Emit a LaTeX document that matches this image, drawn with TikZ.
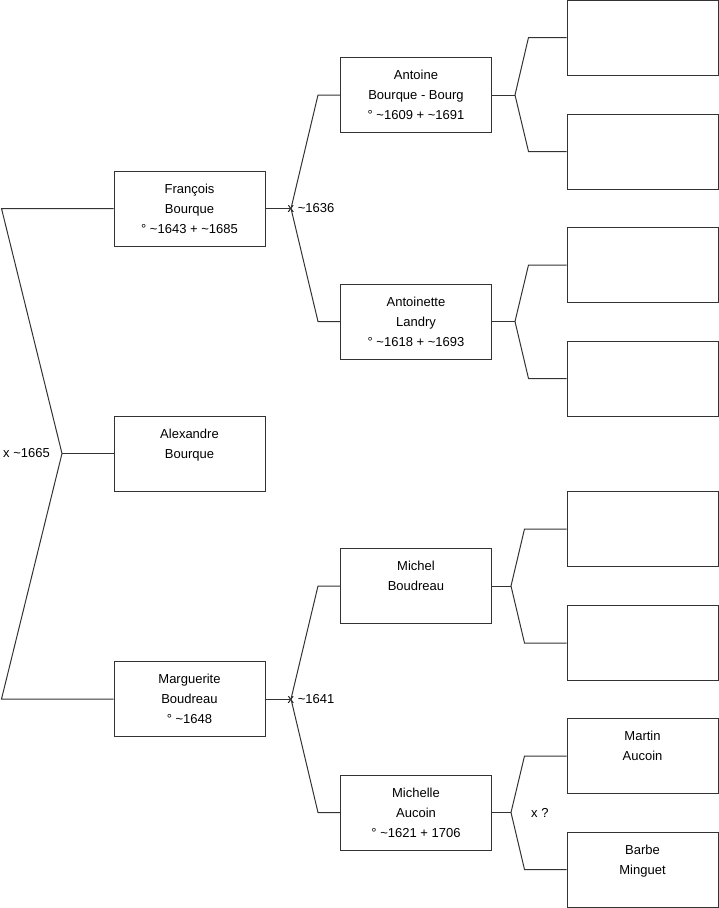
\documentclass[tikz,border=0pt]{standalone}
\usepackage{fontspec}
\setmainfont{Liberation Sans}
\usepackage{tikz}
\tikzstyle{person} = [
    rectangle,
    minimum width=151pt,
    minimum height=75pt,
    align=center,
    draw=black!80,
    line width=1pt,
    font=\fontsize{13}{20}\selectfont
]
\tikzstyle{union} = [
    inner sep=0pt,
    font=\fontsize{13}{15}\selectfont
]
\tikzstyle{branch} = [line width=1pt, draw=black!80]

\begin{document}
\begin{tikzpicture}[x=1pt, y=-1pt]
\useasboundingbox (0,0) rectangle (719,908);

\node (alexandre) [person] at (189.5,453.5) {Alexandre\\Bourque\\~};

\node (francois) [person] at (189.5,208.5) {François\\Bourque\\° \textasciitilde1643 + \textasciitilde1685};

\node (marguerite) [person] at (189.5,699) {Marguerite\\Boudreau\\° \textasciitilde1648};

\node (antoine) [person] at (416,95) {Antoine\\Bourque - Bourg\\° \textasciitilde1609 + \textasciitilde1691};

\node (antoinette) [person] at (416,321.5) {Antoinette\\Landry\\° \textasciitilde1618 + \textasciitilde1693};

\node (michel) [person] at (416,586) {Michel\\Boudreau\\~};

\node (michelle) [person] at (416,812.5) {Michelle\\Aucoin\\° \textasciitilde1621 + 1706};

\node (gp1) [person] at (642.5,37.5) {};
\node (gp2) [person] at (642.5,151.5) {};
\node (gp3) [person] at (642.5,265) {};
\node (gp4) [person] at (642.5,378.5) {};
\node (gp5) [person] at (642.5,529) {};
\node (gp6) [person] at (642.5,643) {};

\node (martin) [person] at (642.5,756) {Martin\\Aucoin\\~};

\node (barbe) [person] at (642.5,869.5) {Barbe\\Minguet\\~};

\coordinate (j0) at (62,453.5);
\coordinate (j1) at (291,208.5);
\coordinate (j2) at (291,699);
\coordinate (j3) at (515,95);
\coordinate (j4) at (515,321.5);
\coordinate (j5) at (511,586);
\coordinate (j6) at (511,812.5);

\node (m1665) [union, anchor=west] at (3,453.5) {x \textasciitilde1665};
\node (m1636) [union, anchor=west] at (287.5,208.5) {x \textasciitilde1636};
\node (m1641) [union, anchor=west] at (287.5,699) {x \textasciitilde1641};
\node (munk) [union, anchor=west] at (531,812.5) {x ?};

\draw [branch] (francois.west) -- ([xshift=-112pt]francois.west) -- (j0)
    -- ([xshift=-112pt]marguerite.west) -- (marguerite.west);
\draw [branch] (j0) -- (alexandre.west);

\draw [branch] (francois.east) -- (j1);
\draw [branch] (antoine.west) -- ([xshift=-22pt]antoine.west) -- (j1)
    -- ([xshift=-22pt]antoinette.west) -- (antoinette.west);

\draw [branch] (marguerite.east) -- (j2);
\draw [branch] (michel.west) -- ([xshift=-22pt]michel.west) -- (j2)
    -- ([xshift=-22pt]michelle.west) -- (michelle.west);

\draw [branch] (antoine.east) -- (j3);
\draw [branch] (gp1.west) -- ([xshift=-38pt]gp1.west) -- (j3)
    -- ([xshift=-38pt]gp2.west) -- (gp2.west);

\draw [branch] (antoinette.east) -- (j4);
\draw [branch] (gp3.west) -- ([xshift=-38pt]gp3.west) -- (j4)
    -- ([xshift=-38pt]gp4.west) -- (gp4.west);

\draw [branch] (michel.east) -- (j5);
\draw [branch] (gp5.west) -- ([xshift=-42pt]gp5.west) -- (j5)
    -- ([xshift=-42pt]gp6.west) -- (gp6.west);

\draw [branch] (michelle.east) -- (j6);
\draw [branch] (martin.west) -- ([xshift=-42pt]martin.west) -- (j6)
    -- ([xshift=-42pt]barbe.west) -- (barbe.west);

\end{tikzpicture}
\end{document}
